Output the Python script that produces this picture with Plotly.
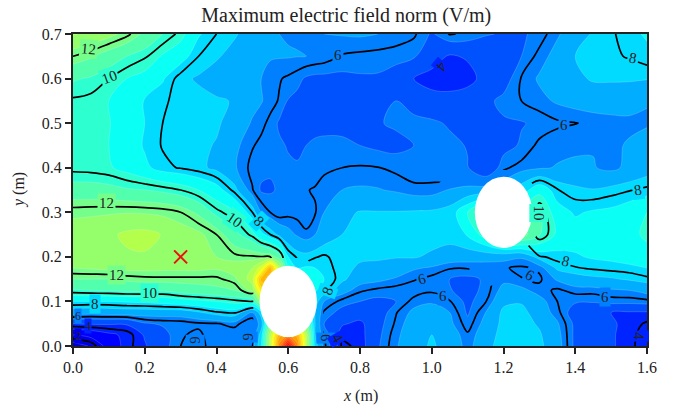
import math
import plotly.graph_objects as go

title_text = "Maximum electric field norm (V/m)"
x_nodes = [0,.05,.1,.15,.2,.25,.3,.35,.4,.45,.5,.525,.55,.575,.6,.625,.65,.675,.7,.75,.8,.85,.9,.95,1,1.05,1.1,1.15,1.2,1.25,1.3,1.35,1.4,1.45,1.5,1.55,1.6]
y_nodes = [0,.025,.05,.075,.1,.125,.15,.175,.2,.25,.3,.35,.4,.45,.5,.55,.6,.65,.7]
field = [
 [1.0,1.6,2.9,3.8,4.4,5.2,6.0,6.2,5.7,5.5,6.0,8.5,14,21,27,21,14,8,6.2,3.9,4.1,5.4,6.4,7.2,7.6,7.2,6.2,7.2,7.9,7.95,7.7,6.9,5.3,4.9,4.6,4.2,3.6],
 [2.5,2.8,3.3,3.7,4.6,5.2,5.95,6.1,5.7,5.6,5.8,8,14,19,20,19,14,7.5,6.0,4.1,4.2,5.3,6.3,7.1,7.5,7,6.1,7,7.85,7.9,7.6,6.8,5.3,4.9,4.6,4.2,3.7],
 [4.5,4.6,4.6,4.6,5.4,5.6,5.7,5.9,5.95,6.2,5.5,7,12,14,14,14,12,7.5,5.5,4.6,4.3,5.2,6.1,7,7.3,6.7,5.7,6.8,7.75,7.8,7.4,6.6,5.3,4.8,4.6,4.3,3.9],
 [7.0,6.8,6.9,7,7,7,7,7.4,7.9,8.1,6.5,8,10,10,10,10,10,7.5,5.9,5.2,4.95,5.0,5.95,6.7,6.9,6.5,5.4,6.5,7.7,7.8,7.0,6.2,5.0,4.6,4.5,4.4,4.4],
 [8.5,8.5,8.5,8.6,8.7,8.9,9.1,9.3,9.5,9.8,10.0,13,15,10,9,9,9,8,6.5,5.8,5.5,5.3,5.5,6.2,6.4,6.05,5.3,5.95,7.3,7.4,6.8,6.0,5.6,5.6,5.75,5.75,5.85],
 [10.4,10.5,10.6,10.7,10.7,10.6,10.9,11.1,11.3,11.5,12.8,17,16,10,9,9,9,8.6,8.1,6.9,6.1,5.85,5.75,5.7,5.9,5.55,5.2,5.7,6.8,6.7,6.2,5.9,6.2,6.2,6.4,6.5,6.8],
 [11.5,11.5,11.5,11.7,11.8,11.85,11.85,11.85,11.85,12.3,14,19,20,12,9,9,9,8.8,8.5,7.7,6.9,6.7,6.4,6.05,5.8,5.5,5.3,5.6,6.3,6.02,5.9,6.6,7.1,7.3,7.4,7.6,7.85],
 [12.5,12.6,12.7,12.75,12.75,12.7,12.7,12.7,12.6,13,13.5,15,19,14,9,8.5,8.6,8.5,8.3,7.7,7.4,7.3,7.1,6.6,6.4,6.05,6.05,6.05,6.05,5.9,6.1,7.7,7.95,8.1,8.2,8.3,8.5],
 [12.9,13,13.2,13.35,13.4,13.35,13.2,12.8,12.5,12.2,12.1,12.05,12.0,11,8.5,7.9,7.8,7.95,8.1,7.7,7.6,7.6,7.55,7.6,7.3,7.0,6.9,6.9,6.8,6.6,7.9,8.2,8.4,8.6,8.7,8.9,9.1],
 [13,13.1,13.3,13.7,13.8,13.45,13.0,12.7,12.0,10.8,9.8,8.8,8.0,7.3,6.8,6.4,6.1,6.5,7.0,7.5,7.8,7.85,7.9,7.95,8.0,7.9,8.6,10,12,12,10.6,9.3,8.9,8.9,8.9,9.2,9.7],
 [12.3,12.35,12.4,12.45,12.4,12.3,12.0,11.3,10.2,9.6,8.0,6.5,6.0,5.6,5.8,5.8,5.7,5.95,6.5,7.3,7.55,7.55,7.55,7.6,7.65,7.9,9.5,11,10,10,10.6,8.9,8.4,8.6,8.7,9.0,9.5],
 [10.9,10.9,10.8,10.6,10.5,10.3,10.0,9.5,8.9,7.8,6.05,5.4,5.4,5.6,5.7,5.9,5.97,6.05,6.3,6.5,6.6,6.55,6.4,6.15,6.15,6.55,6.7,6.9,7,8,9.2,8.05,7.7,7.55,7.75,7.95,8.15],
 [9.8,9.75,9.6,9.2,8.7,8.15,7.95,7.7,7.3,6.6,5.8,5.7,5.6,5.6,5.6,5.55,5.55,5.75,5.85,6.0,6.05,6.02,5.85,5.7,5.7,5.6,5.55,4.6,5.9,6.2,6.4,6.55,6.6,6.55,6.3,6.7,7.1],
 [9.8,9.7,9.5,9.1,8.4,7.95,7.85,7.65,7.45,6.7,6.05,5.85,5.7,5.6,5.45,5.4,5.5,5.6,5.65,5.6,5.5,5.35,5.3,5.5,5.7,5.7,5.45,4.5,5.2,5.6,6.15,6.3,6.4,6.45,6.3,6.6,6.9],
 [9.8,9.7,9.55,9.0,8.5,8.0,7.85,7.75,7.6,7.2,6.4,6.15,5.85,5.4,5.3,5.3,5.3,5.3,5.3,5.35,5.4,5.45,5.6,5.75,5.65,5.4,5.3,5.35,5.4,5.45,5.65,5.9,5.98,6.1,6.2,6.3,6.4],
 [9.9,9.8,9.5,9.0,8.45,8.05,7.9,7.75,7.6,7.45,6.8,6.55,6.2,5.95,5.45,5.3,5.3,5.3,5.3,5.3,5.35,5.45,5.5,5.1,4.8,4.8,5.0,5.3,5.7,6.0,6.3,6.6,6.8,6.95,7.0,6.9,6.55],
 [10.6,10.4,10.0,9.5,9.2,8.6,7.7,7.4,7.1,6.9,6.6,6.5,6.3,6.05,5.9,5.7,5.4,5.3,5.3,5.3,5.4,5.4,5.1,4.5,4.2,4.1,4.2,4.8,5.1,6.05,6.6,7.0,7.3,7.6,7.6,7.6,7.55],
 [12.0,11.6,11.0,10.5,10.1,9.4,8.9,8.0,7.6,7.2,6.8,6.65,6.55,6.55,6.55,6.52,6.5,6.4,6.3,5.95,5.85,5.8,5.75,5.6,4.9,4.4,4.6,4.5,5.0,5.5,6.2,6.8,7.5,7.8,7.9,8.05,8.3],
 [13.6,13.2,12.8,12.2,11.3,10.5,9.8,8.6,8.0,7.6,7.1,6.9,6.65,6.5,6.45,6.45,6.45,6.45,6.5,6.55,6.6,6.5,6.3,6.1,5.4,6.05,5.9,5.6,5.4,5.4,5.7,6.4,7.0,7.6,7.9,8.3,8.6],
]
hole_x = [0.6, 1.2]
hole_y = [0.1, 0.3]
hole_r = 0.08
marker_x = [0.3]
marker_y = [0.2]
x_ticks = [0,.2,.4,.6,.8,1,1.2,1.4,1.6]
y_ticks = [0,.1,.2,.3,.4,.5,.6,.7]
label_x = [.042,.103,.738,1.028,1.56,1.37,1.575,.092,.451,.518,.122,.212,.061,.014,.042,.014,.34,.488,.71,.705,.738,.972,1.03,1.273,1.373,1.482,1.298,1.578]
label_y = [.666,.603,.653,.626,.646,.496,.35,.321,.283,.28,.159,.119,.094,.067,.045,.022,.013,.02,.123,.018,.018,.15,.112,.159,.191,.11,.298,.022]
label_text = ["12","10","6","4","8","6","8","12","10","8","12","10","8","6","4","2","6","6","8","6","4","6","6","6","8","6","10","4"]
label_angle = [5,-20,0,130,10,0,-10,0,35,45,0,0,0,0,0,0,90,90,-70,90,60,-15,0,30,15,0,90,90]
# field value -> position on the jet ramp
ramp_values = [0,2,3,4,5,6,7,8,9,10,11,12,13,14,16,20,24,27]
ramp_jet = [.04,.1,.125,.16,.205,.25,.295,.34,.385,.42,.455,.49,.52,.55,.62,.72,.83,.9]
FONT = "Liberation Serif"
INK = "#222"

def jet(v):
    stops = [(0,(0,0,128)),(.125,(0,0,255)),(.375,(0,255,255)),(.625,(255,255,0)),(.875,(255,0,0)),(1,(128,0,0))]
    for (a,ca),(b,cb) in zip(stops, stops[1:]):
        if a <= v <= b:
            t = (v-a)/(b-a)
            return "rgb(%d,%d,%d)" % tuple(round(p+(q-p)*t) for p,q in zip(ca,cb))

colors = [[val/27, jet(v)] for val, v in zip(ramp_values, ramp_jet)]
level_colour = dict(zip(ramp_values, (jet(v) for v in ramp_jet)))

def masked(x, y):
    if math.hypot(x-hole_x[0], y-hole_y[0]) < 0.095 or (0.52 < x < 0.69 and y < 0.1):
        return True
    r = math.hypot(x-hole_x[1], y-hole_y[1])
    return r < (0.16 if x < hole_x[1] else 0.09)

line_field = [[None if masked(x, y) else val for x, val in zip(x_nodes, row)] for y, row in zip(y_nodes, field)]

fig = go.Figure()
fig.add_trace(go.Contour(x=x_nodes, y=y_nodes, z=field, zmin=0, zmax=27, colorscale=colors, showscale=False,
    autocontour=False, contours=dict(start=0.5, end=26.5, size=1, coloring="fill", showlines=True),
    line=dict(color="rgba(255,255,255,0.3)", width=0.6, smoothing=1.0), hoverinfo="skip"))
fig.add_trace(go.Contour(x=x_nodes, y=y_nodes, z=line_field, colorscale=[[0,"black"],[1,"black"]], showscale=False,
    autocontour=False, connectgaps=False, contours=dict(start=2, end=12, size=2, coloring="lines", showlabels=False),
    line=dict(width=1.7, smoothing=1.0), hoverinfo="skip"))
fig.add_trace(go.Scatter(x=marker_x, y=marker_y, mode="markers",
    marker=dict(symbol="x-thin", size=13, line=dict(color="#ee1111", width=2)), showlegend=False))
for hx, hy in zip(hole_x, hole_y):
    fig.add_shape(type="circle", xref="x", yref="y", x0=hx-hole_r, x1=hx+hole_r, y0=hy-hole_r, y1=hy+hole_r,
                  fillcolor="white", line=dict(width=0), layer="above")
for lx, ly, lt, la in zip(label_x, label_y, label_text, label_angle):
    small = lx < 0.05 and ly < 0.07
    fig.add_annotation(x=lx, y=ly, xref="x", yref="y", text=lt, textangle=la, showarrow=False,
                       font=dict(family=FONT, size=12 if small else 15, color=INK),
                       bgcolor=level_colour[int(lt)], borderpad=0 if small else 1)
axis = dict(showgrid=False, zeroline=False, showline=True, mirror=True, linecolor=INK, linewidth=2, automargin=False,
            ticks="outside", ticklen=6, tickwidth=1.6, tickcolor=INK, tickfont=dict(family=FONT, size=16, color=INK))
fig.add_annotation(xref="paper", yref="paper", x=0.5, y=-0.16, yanchor="middle", xanchor="center", text="<i>x</i> (m)", showarrow=False,
                   font=dict(family=FONT, size=16, color=INK))
fig.add_annotation(xref="paper", yref="paper", x=-0.094, y=0.5, xanchor="center", yanchor="middle", text="<i>y</i> (m)", textangle=-90, showarrow=False,
                   font=dict(family=FONT, size=16, color=INK))
fig.update_layout(width=676, height=412, margin=dict(l=73, r=29, t=34, b=66), paper_bgcolor="white", plot_bgcolor="white",
    title=dict(text=title_text, x=0.476, xanchor="center", xref="paper", y=0.964, yanchor="middle", font=dict(family=FONT, size=20, color=INK)),
    xaxis=dict(axis, range=[0,1.6], tickvals=x_ticks, tickformat=".1f"),
    yaxis=dict(axis, range=[0,0.7], tickvals=y_ticks, tickformat=".1f"),
    showlegend=False)
fig.write_html("out.html", config=dict(displayModeBar=False), post_script="document.body.style.margin='0';")
